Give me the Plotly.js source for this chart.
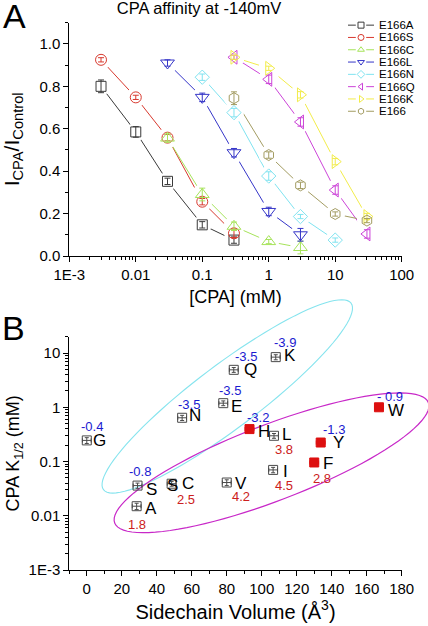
<!DOCTYPE html>
<html><head><meta charset="utf-8">
<script src="https://cdn.plot.ly/plotly-3.0.1.min.js"></script>
<style>html,body{margin:0;padding:0;background:#fff}#chart{width:428px;height:626px}</style>
</head><body><div id="chart"></div>
<script>
// ---------------- Panel A data ----------------
const seriesNames = ['E166A','E166S','E166C','E166L','E166N','E166Q','E166K','E166'];
const concLow  = [0.003, 0.01, 0.03, 0.1, 0.3];
const concMidL = [0.03, 0.1, 0.3, 1, 3];
const concMidH = [0.1, 0.3, 1, 3, 10];
const concHigh = [0.3, 1, 3, 10, 30];
const ratioE166A = [0.80, 0.585, 0.352, 0.147, 0.075];
const ratioE166S = [0.925, 0.748, 0.558, 0.256, 0.107];
const ratioE166C = [0.556, 0.29, 0.14, 0.068, 0.04];
const ratioE166L = [0.91, 0.748, 0.487, 0.21, 0.10];
const ratioE166N = [0.843, 0.676, 0.377, 0.186, 0.075];
const ratioE166Q = [0.937, 0.833, 0.632, 0.311, 0.104];
const ratioE166K = [0.937, 0.885, 0.76, 0.445, 0.186];
const ratioE166  = [0.744, 0.476, 0.333, 0.198, 0.167];
const errE166A = [0.03, 0.025, 0.015, 0.015, 0.015];
const errE166S = [0.01, 0.01, 0.015, 0.015, 0.02];
const errE166C = [0.02, 0.03, 0.02, 0.01, 0.03];
const errE166L = [0.015, 0.02, 0.02, 0.02, 0.03];
const errE166N = [0.015, 0.02, 0.02, 0.01, 0.01];
const errE166Q = [0.01, 0.02, 0.02, 0.02, 0.02];
const errE166K = [0.01, 0.01, 0.015, 0.015, 0.015];
const errE166  = [0.03, 0.015, 0.015, 0.01, 0.01];
const xTickVals = [0.001, 0.01, 0.1, 1, 10, 100];
const xTickText = ['1E-3', '0.01', '0.1', '1', '10', '100'];

// ---------------- Panel B data ----------------
const residues   = ['G','A','S','C','N','E','Q','K','V','I','L','H','F','Y','W'];
const volume     = [0, 28.5, 29, 48.5, 54.5, 78, 84, 108, 80, 106.5, 107, 93, 130, 133.7, 167];
const k12        = [0.245, 0.015, 0.036, 0.039, 0.64, 1.19, 4.9, 8.4, 0.041, 0.070, 0.298, 0.396, 0.096, 0.224, 1.0];
const k12Err     = [0.03, 0.002, 0.004, 0.004, 0.07, 0.12, 0.5, 0.9, 0.005, 0.008, 0.03, 0.04, 0.01, 0.025, 0.1];
const volumeErr  = [2.5, 2.5, 2.5, 2.5, 2.5, 2.5, 2.5, 2.5, 2.5, 2.5, 2.5, 2.5, 2.5, 2.5, 2.5];
const hydropathy = ['-0.4','1.8','-0.8','2.5','-3.5','-3.5','-3.5','-3.9','4.2','4.5','3.8','-3.2','2.8','-1.3','- 0.9'];
const aromatic   = [false,false,false,false,false,false,false,false,false,false,false,true,true,true,true];
const yTickValsB = [0.001, 0.01, 0.1, 1, 10];
const yTickTextB = ['1E-3', '0.01', '0.1', '1', '10'];

// ---------------- styles / layout helpers ----------------
const W = 428, H = 626;
const FONT = 'Liberation Sans, Arial, sans-serif';
const colors  = ['#3a3a3a','#d8392e','#a6e35a','#3535c8','#7fe3f0','#cc44d8','#f2ec4a','#a39c62'];
const symbols = ['square','circle','triangle-up','triangle-down','diamond','triangle-left','triangle-right','hexagon'];
const sizes   = [10, 11, 12, 12, 11, 12, 12, 11];
const xsA = [concLow, concLow, concMidL, concMidL, concMidH, concHigh, concHigh, concHigh];
const ysA = [ratioE166A, ratioE166S, ratioE166C, ratioE166L, ratioE166N, ratioE166Q, ratioE166K, ratioE166];
const esA = [errE166A, errE166S, errE166C, errE166L, errE166N, errE166Q, errE166K, errE166];

const plotLeft = 69.3, plotRight = 401.7;
const topTop = 22.7, topBottom = 256;
const botTop = 336.7, botBottom = 570;
const xRangeB = [-10, 180];
const yRangeB = [-3, Math.log10(20)];

// label shifts (pixels) for panel B: [letter dx, letter dy, number dx, number dy]
const labelShift = {
  G:[13,0,5,14], A:[14,-2,0,-18], S:[14,-4,2,14], C:[16,0,14,-16], N:[13,2,7,13],
  E:[13,-3,7,13], Q:[17,0,12,13], K:[14,2,9,15], V:[14,-1,14,-14], I:[12,-2,11,-16],
  L:[13,1,10,-14], H:[14,-2,8,12], F:[14,-1,8,-16], Y:[18,0,13,13], W:[17,-3,11,11]
};

const traces = [];
// lines (panel A)
for (let i = 0; i < seriesNames.length; i++) {
  traces.push({x: xsA[i], y: ysA[i], xaxis:'x', yaxis:'y', mode:'lines', type:'scatter',
    line:{color: colors[i], width: 1}, hoverinfo:'skip', showlegend:false});
}
// white halos to create gaps between lines and markers
for (let i = 0; i < seriesNames.length; i++) {
  traces.push({x: xsA[i], y: ysA[i], xaxis:'x', yaxis:'y', mode:'markers', type:'scatter',
    marker:{color:'#ffffff', size: sizes[i] + 9, symbol:'circle', line:{width:0}},
    hoverinfo:'skip', showlegend:false, cliponaxis:false});
}
// markers with error bars
for (let i = 0; i < seriesNames.length; i++) {
  traces.push({x: xsA[i], y: ysA[i], xaxis:'x', yaxis:'y', mode:'markers', type:'scatter',
    name: seriesNames[i], cliponaxis:false,
    marker:{symbol: symbols[i] + '-open', size: sizes[i], color: colors[i], line:{width:1, color: colors[i]}},
    error_y:{type:'data', array: esA[i], color: colors[i], thickness: 1, width: 3},
    showlegend:false});
}
// custom legend glyphs on an auxiliary axis pair
for (let i = 0; i < seriesNames.length; i++) {
  traces.push({x:[0, 0.3, null, 0.7, 1], y:[i, i, null, i, i], xaxis:'x3', yaxis:'y3', mode:'lines',
    line:{color: colors[i], width:1}, hoverinfo:'skip', showlegend:false});
  traces.push({x:[0.5], y:[i], xaxis:'x3', yaxis:'y3', mode:'markers', cliponaxis:false,
    marker:{symbol: symbols[i] + '-open', size: 6, color: colors[i], line:{width:1, color: colors[i]}},
    hoverinfo:'skip', showlegend:false});
}
// panel B markers
const openIdx = residues.map((r, i) => i).filter(i => !aromatic[i]);
const fillIdx = residues.map((r, i) => i).filter(i => aromatic[i]);
const pick = (arr, idx) => idx.map(i => arr[i]);
traces.push({x: pick(volume, openIdx), y: pick(k12, openIdx), xaxis:'x2', yaxis:'y2', mode:'markers', type:'scatter',
  text: pick(residues, openIdx), cliponaxis:false,
  marker:{symbol:'square-open', size: 9, color:'#4a4a4a', line:{width:1, color:'#4a4a4a'}},
  error_x:{type:'data', array: pick(volumeErr, openIdx), color:'#4a4a4a', thickness:1, width:2},
  error_y:{type:'data', array: pick(k12Err, openIdx), color:'#4a4a4a', thickness:1, width:2},
  showlegend:false});
traces.push({x: pick(volume, fillIdx), y: pick(k12, fillIdx), xaxis:'x2', yaxis:'y2', mode:'markers', type:'scatter',
  text: pick(residues, fillIdx), cliponaxis:false,
  marker:{symbol:'square', size: 9, color:'#dd1010', line:{width:1, color:'#dd1010'}},
  error_x:{type:'data', array: pick(volumeErr, fillIdx), color:'#dd1010', thickness:1, width:2},
  error_y:{type:'data', array: pick(k12Err, fillIdx), color:'#dd1010', thickness:1, width:2},
  showlegend:false});

// annotations
const annotations = [];
annotations.push({text:'A', xref:'paper', yref:'paper', x: 1/W, y: 1 - 16/H, xanchor:'left', yanchor:'middle',
  showarrow:false, font:{family: FONT, size: 34, color:'#000'}});
annotations.push({text:'B', xref:'paper', yref:'paper', x: 0/W, y: 1 - 328/H, xanchor:'left', yanchor:'middle',
  showarrow:false, font:{family: FONT, size: 34, color:'#000'}});
for (let i = 0; i < seriesNames.length; i++) {
  annotations.push({text: seriesNames[i], xref:'x3', yref:'y3', x: 1, y: i, xanchor:'left', yanchor:'middle',
    xshift: 3, showarrow:false, font:{family: FONT, size: 11.5, color:'#000'}});
}
for (let i = 0; i < residues.length; i++) {
  const r = residues[i];
  const s = labelShift[r];
  const negative = hydropathy[i].trim().startsWith('-');
  annotations.push({text: r, xref:'x2', yref:'y2', x: volume[i], y: Math.log10(k12[i]),
    xshift: s[0], yshift: s[1], xanchor:'center', yanchor:'middle', showarrow:false,
    font:{family: FONT, size: 17, color:'#000'}});
  annotations.push({text: hydropathy[i], xref:'x2', yref:'y2', x: volume[i], y: Math.log10(k12[i]),
    xshift: s[2], yshift: s[3], xanchor:'center', yanchor:'middle', showarrow:false,
    font:{family: FONT, size: 13, color: negative ? '#1a1ad0' : '#cc2020'}});
}
// stray "S" glyph overlapping the C marker in the original
annotations.push({text:'S', xref:'x2', yref:'y2', x: volume[3], y: Math.log10(k12[3]), xshift: 1, yshift: -2,
  xanchor:'center', yanchor:'middle', showarrow:false, font:{family: FONT, size: 17, color:'#000'}});

// ellipses (decorative), defined in data space of panel B
const uxB = (plotRight - plotLeft) / (xRangeB[1] - xRangeB[0]);
const uyB = (botBottom - botTop) / (yRangeB[1] - yRangeB[0]);
function ellipsePath(cx, cyLog, aPx, bPx, thetaDeg) {
  const th = thetaDeg * Math.PI / 180;
  const px0 = plotLeft + (cx - xRangeB[0]) * uxB;
  const py0 = botBottom - (cyLog - yRangeB[0]) * uyB;
  let d = '';
  for (let k = 0; k <= 96; k++) {
    const phi = 2 * Math.PI * k / 96;
    const dx = aPx * Math.cos(phi) * Math.cos(th) + bPx * Math.sin(phi) * Math.sin(th);
    const dy = -aPx * Math.cos(phi) * Math.sin(th) + bPx * Math.sin(phi) * Math.cos(th);
    const xp = (px0 + dx) / W, yp = 1 - (py0 + dy) / H;
    d += (k === 0 ? 'M' : 'L') + xp.toFixed(5) + ',' + yp.toFixed(5);
  }
  return d + 'Z';
}
const shapes = [
  {type:'path', xref:'paper', yref:'paper', path: ellipsePath(80.3, 0.20, 155, 31.7, 37), line:{color:'#86e4ee', width:1.1}, layer:'below'},
  {type:'path', xref:'paper', yref:'paper', path: ellipsePath(105.6, -1.024, 168, 38, 21), line:{color:'#c828c8', width:1.2}, layer:'below'}
];

// minor ticks
const minorLog = (lo, hi) => { const v = []; for (let e = lo; e < hi; e++) for (let m = 2; m <= 9; m++) v.push(m * Math.pow(10, e)); return v; };

const axisBase = {showline:true, linecolor:'#000', linewidth:1, mirror:false, showgrid:false, zeroline:false,
  ticks:'outside', ticklen:5, tickwidth:1, tickcolor:'#000', automargin:false,
  tickfont:{family: FONT, size: 15, color:'#000'}};

const layout = {
  width: W, height: H, margin:{l:0, r:0, t:0, b:0},
  paper_bgcolor:'#fff', plot_bgcolor:'rgba(0,0,0,0)', showlegend:false,
  title:{text:'CPA affinity at -140mV', x: 199/W, xref:'paper', xanchor:'center', y: 1 - 8.5/H, yref:'paper', yanchor:'middle',
    font:{family: FONT, size: 16.5, color:'#000'}},
  xaxis: Object.assign({}, axisBase, {domain:[plotLeft/W, plotRight/W], anchor:'y', type:'log', range:[-3, 2],
    tickmode:'array', tickvals: xTickVals, ticktext: xTickText,
    minor:{tickmode:'array', tickvals: minorLog(-3, 2), ticks:'outside', ticklen:3, tickcolor:'#000', showgrid:false},
    title:{text:'[CPA] (mM)', standoff: 8, font:{family: FONT, size: 18, color:'#000'}}}),
  yaxis: Object.assign({}, axisBase, {domain:[1 - topBottom/H, 1 - topTop/H], anchor:'x', range:[0, 1.1],
    tickmode:'array', tickvals:[0,0.2,0.4,0.6,0.8,1.0], ticktext:['0.0','0.2','0.4','0.6','0.8','1.0'],
    minor:{dtick:0.1, ticks:'outside', ticklen:3, tickcolor:'#000', showgrid:false},
    title:{text:'I<sub>CPA</sub>/I<sub>Control</sub>', standoff: 16, font:{family: FONT, size: 21, color:'#000'}}}),
  xaxis2: Object.assign({}, axisBase, {domain:[plotLeft/W, plotRight/W], anchor:'y2', range: xRangeB,
    tickmode:'array', tickvals:[0,20,40,60,80,100,120,140,160,180],
    minor:{dtick:10, tick0:0, ticks:'outside', ticklen:3, tickcolor:'#000', showgrid:false},
    title:{text:'Sidechain Volume (Å<sup>3</sup>)', standoff: 8, font:{family: FONT, size: 20, color:'#000'}}}),
  yaxis2: Object.assign({}, axisBase, {domain:[1 - botBottom/H, 1 - botTop/H], anchor:'x2', type:'log', range: yRangeB,
    tickmode:'array', tickvals: yTickValsB, ticktext: yTickTextB,
    minor:{tickmode:'array', tickvals: minorLog(-3, 2).filter(v => v <= 20), ticks:'outside', ticklen:3, tickcolor:'#000', showgrid:false},
    title:{text:'CPA K<sub>1/2</sub> (mM)', standoff: 4, font:{family: FONT, size: 18, color:'#000'}}}),
  xaxis3: {domain:[348/W, 374/W], anchor:'y3', range:[0, 1], visible:false, fixedrange:true},
  yaxis3: {domain:[1 - 117.4/H, 1 - 19/H], anchor:'x3', range:[7.5, -0.5], visible:false, fixedrange:true},
  annotations: annotations,
  shapes: shapes
};

Plotly.newPlot('chart', traces, layout, {displayModeBar:false, staticPlot:true});
</script></body></html>
